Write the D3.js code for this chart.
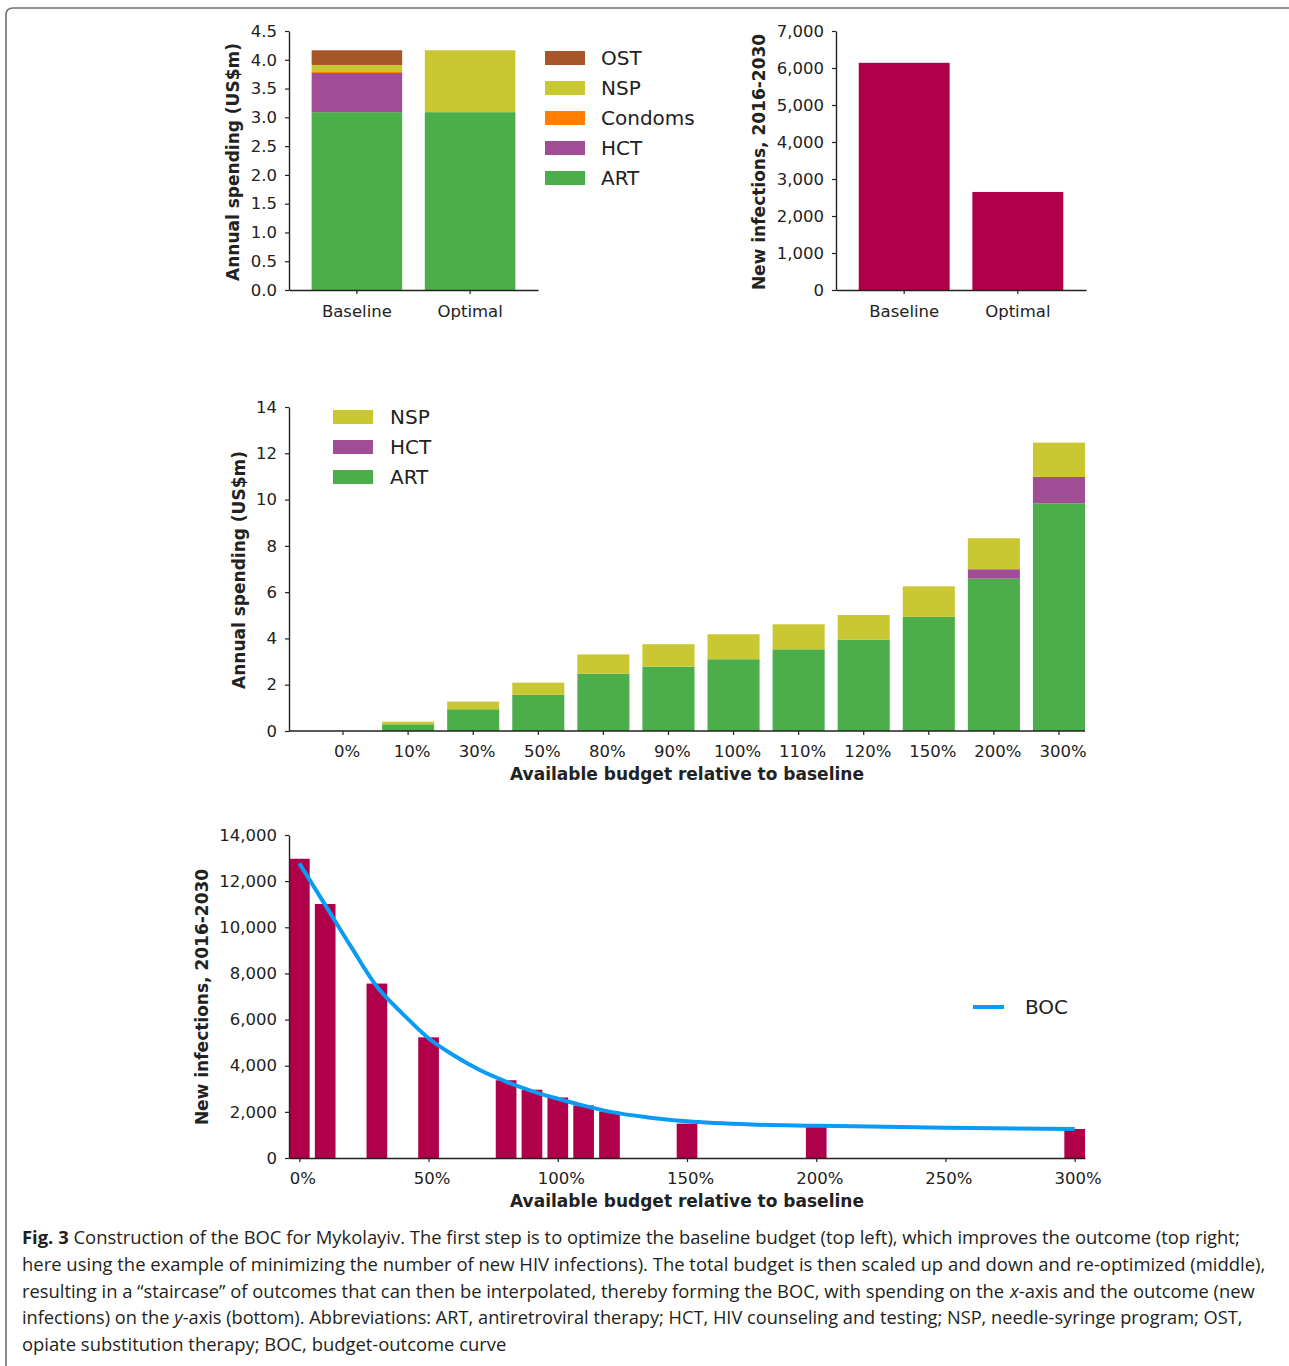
<!DOCTYPE html>
<html>
<head>
<meta charset="utf-8">
<script src="https://cdn.jsdelivr.net/npm/d3@7/dist/d3.min.js"></script>
<style>
  body { margin: 0; background: #fff; }
  svg text { font-family: "DejaVu Sans", sans-serif; fill: #222; }
</style>
</head>
<body>
<div id="fig"></div>
<script>
// top panels: baseline vs optimal
var topCats = ["Baseline", "Optimal"];
var programs = ["ART", "HCT", "Condoms", "NSP", "OST"];
var baselineSpend = [3.09, 0.68, 0.03, 0.11, 0.255];
var optimalSpend = [3.09, 0, 0, 1.075, 0];
var topInfections = [6140, 2650];

// middle panel: spending by budget level
var budgetLevels = ["0%", "10%", "30%", "50%", "80%", "90%", "100%", "110%", "120%", "150%", "200%", "300%"];
var artSpend = [0, 0.29, 0.94, 1.56, 2.48, 2.78, 3.10, 3.53, 3.95, 4.93, 6.58, 9.84];
var hctSpend = [0, 0, 0, 0, 0, 0, 0, 0, 0, 0, 0.41, 1.14];
var nspSpend = [0, 0.11, 0.33, 0.53, 0.83, 0.97, 1.08, 1.08, 1.06, 1.32, 1.34, 1.48];

// bottom panel: outcome staircase and BOC
var budgetPct = [0, 10, 30, 50, 80, 90, 100, 110, 120, 150, 200, 300];
var newInfections = [12970, 11010, 7560, 5230, 3370, 2960, 2625, 2280, 2015, 1490, 1345, 1258];
var bocX = [0, 10, 20, 30, 40, 50, 60, 70, 80, 90, 100, 110, 120, 135, 150, 175, 200, 250, 300];
var bocY = [12770, 10970, 9160, 7430, 6250, 5190, 4430, 3800, 3310, 2900, 2570, 2270, 2010, 1760, 1590, 1450, 1400, 1310, 1260];

var colors = { ART: "#4cae4a", HCT: "#a14d96", Condoms: "#ff7f00", NSP: "#c9c832", OST: "#a65628" };
var red = "#b1004a";
var bocColor = "#0a9bf7";

var W = 1289, H = 1366;
var svg = d3.select("#fig").append("svg").attr("width", W).attr("height", H);
svg.append("rect").attr("width", W).attr("height", H).attr("fill", "#fff");

// frame around the figure
svg.append("path").attr("d", "M6,1366 V15 Q6,8 13,8 H1289")
    .attr("fill", "none").attr("stroke", "#707070").attr("stroke-width", 1.6);

function styleAxis(g) {
    g.selectAll(".domain").attr("stroke", "#222").attr("stroke-width", 1.4);
    g.selectAll(".tick line").attr("stroke", "#222").attr("stroke-width", 1.2);
    g.selectAll(".tick text").attr("font-size", 16.5).attr("font-family", "DejaVu Sans").attr("fill", "#222");
}

function yLabel(x, y, txt) {
    svg.append("text").attr("transform", "translate(" + x + "," + y + ") rotate(-90)")
        .attr("text-anchor", "middle").attr("font-size", 17).attr("font-weight", "bold").text(txt);
}

// ---------- top left: stacked spending ----------
var tlX = d3.scaleBand().domain(topCats).range([289, 538]).paddingInner(0.2).paddingOuter(0.2);
var tlY = d3.scaleLinear().domain([0, 4.5]).range([290, 31]);
var topRows = topCats.map(function (c, i) {
    var row = { cat: c };
    programs.forEach(function (p, j) { row[p] = (i === 0 ? baselineSpend : optimalSpend)[j]; });
    return row;
});
var tlStack = d3.stack().keys(programs)(topRows);
svg.append("g").selectAll("g").data(tlStack).join("g")
    .attr("fill", function (d) { return colors[d.key]; })
    .selectAll("rect").data(function (d) { return d; }).join("rect")
    .attr("x", function (d) { return tlX(d.data.cat); })
    .attr("width", tlX.bandwidth())
    .attr("y", function (d) { return tlY(d[1]); })
    .attr("height", function (d) { return tlY(d[0]) - tlY(d[1]); });

svg.append("g").attr("transform", "translate(289,0)")
    .call(d3.axisLeft(tlY).tickValues(d3.range(0, 4.51, 0.5)).tickFormat(d3.format(".1f")).tickSize(4).tickPadding(8).tickSizeOuter(0))
    .call(styleAxis);
svg.append("g").attr("transform", "translate(0,290)")
    .call(d3.axisBottom(tlX).tickSize(4).tickPadding(11).tickSizeOuter(0))
    .call(styleAxis);
yLabel(239, 162, "Annual spending (US$m)");

var tlLegend = ["OST", "NSP", "Condoms", "HCT", "ART"];
var tlLeg = svg.append("g").selectAll("g").data(tlLegend).join("g")
    .attr("transform", function (d, i) { return "translate(545," + (58 + 30 * i) + ")"; });
tlLeg.append("rect").attr("x", 0).attr("y", -7).attr("width", 40).attr("height", 14)
    .attr("fill", function (d) { return colors[d]; });
tlLeg.append("text").attr("x", 56).attr("dy", "0.36em").attr("font-size", 20).text(function (d) { return d; });

// ---------- top right: infections ----------
var trX = d3.scaleBand().domain(topCats).range([836, 1086]).paddingInner(0.2).paddingOuter(0.2);
var trY = d3.scaleLinear().domain([0, 7000]).range([290, 31]);
svg.append("g").selectAll("rect").data(topInfections).join("rect")
    .attr("x", function (d, i) { return trX(topCats[i]); })
    .attr("width", trX.bandwidth())
    .attr("y", function (d) { return trY(d); })
    .attr("height", function (d) { return trY(0) - trY(d); })
    .attr("fill", red);
svg.append("g").attr("transform", "translate(836,0)")
    .call(d3.axisLeft(trY).tickValues(d3.range(0, 7001, 1000)).tickFormat(d3.format(",")).tickSize(4).tickPadding(8).tickSizeOuter(0))
    .call(styleAxis);
svg.append("g").attr("transform", "translate(0,290)")
    .call(d3.axisBottom(trX).tickSize(4).tickPadding(11).tickSizeOuter(0))
    .call(styleAxis);
yLabel(765, 162, "New infections, 2016-2030");

// ---------- middle: spending by budget ----------
var mX = d3.scaleBand().domain(budgetLevels).range([317, 1085]).paddingInner(0.2).paddingOuter(0);
var mY = d3.scaleLinear().domain([0, 14]).range([731, 407]);
var midKeys = ["ART", "HCT", "NSP"];
var midRows = budgetLevels.map(function (b, i) {
    return { cat: b, ART: artSpend[i], HCT: hctSpend[i], NSP: nspSpend[i] };
});
var mStack = d3.stack().keys(midKeys)(midRows);
svg.append("g").selectAll("g").data(mStack).join("g")
    .attr("fill", function (d) { return colors[d.key]; })
    .selectAll("rect").data(function (d) { return d.filter(function (s) { return s[1] > s[0]; }); }).join("rect")
    .attr("x", function (d) { return mX(d.data.cat); })
    .attr("width", mX.bandwidth())
    .attr("y", function (d) { return mY(d[1]); })
    .attr("height", function (d) { return mY(d[0]) - mY(d[1]); });

svg.append("g").attr("transform", "translate(289,0)")
    .call(d3.axisLeft(mY).tickValues(d3.range(0, 15, 2)).tickSize(4).tickPadding(8).tickSizeOuter(0))
    .call(styleAxis);
var mxAxis = svg.append("g").attr("transform", "translate(0,731)")
    .call(d3.axisBottom(mX).tickSize(4).tickPadding(10).tickSizeOuter(0))
    .call(styleAxis);
mxAxis.selectAll(".tick text").attr("dx", 4);
mxAxis.select(".domain").remove();
svg.append("line").attr("x1", 289).attr("x2", 1085).attr("y1", 731).attr("y2", 731)
    .attr("stroke", "#222").attr("stroke-width", 1.4);
yLabel(245, 570, "Annual spending (US$m)");
svg.append("text").attr("x", 687).attr("y", 780).attr("text-anchor", "middle")
    .attr("font-size", 17).attr("font-weight", "bold").text("Available budget relative to baseline");

var mLegend = ["NSP", "HCT", "ART"];
var mLeg = svg.append("g").selectAll("g").data(mLegend).join("g")
    .attr("transform", function (d, i) { return "translate(333," + (417 + 30 * i) + ")"; });
mLeg.append("rect").attr("x", 0).attr("y", -7).attr("width", 40).attr("height", 14)
    .attr("fill", function (d) { return colors[d]; });
mLeg.append("text").attr("x", 57).attr("dy", "0.36em").attr("font-size", 20).text(function (d) { return d; });

// ---------- bottom: BOC ----------
var bX = d3.scaleLinear().domain([-4, 304]).range([289, 1085]);
var bY = d3.scaleLinear().domain([0, 14000]).range([1158, 835]);
var barW = bX(8) - bX(0);
svg.append("g").selectAll("rect").data(newInfections).join("rect")
    .attr("x", function (d, i) { return bX(budgetPct[i]) - barW / 2; })
    .attr("width", barW)
    .attr("y", function (d) { return bY(d); })
    .attr("height", function (d) { return bY(0) - bY(d); })
    .attr("fill", red);

var bocLine = d3.line()
    .x(function (d, i) { return bX(bocX[i]); })
    .y(function (d) { return bY(d); })
    .curve(d3.curveMonotoneX);
svg.append("path").datum(bocY).attr("d", bocLine)
    .attr("fill", "none").attr("stroke", bocColor).attr("stroke-width", 4);

svg.append("g").attr("transform", "translate(289,0)")
    .call(d3.axisLeft(bY).tickValues(d3.range(0, 14001, 2000)).tickFormat(d3.format(",")).tickSize(4).tickPadding(8).tickSizeOuter(0))
    .call(styleAxis);
var bxAxis = svg.append("g").attr("transform", "translate(0,1158)")
    .call(d3.axisBottom(bX).tickValues(d3.range(0, 301, 50)).tickFormat(function (d) { return d + "%"; }).tickSize(4).tickPadding(10).tickSizeOuter(0))
    .call(styleAxis);
bxAxis.selectAll(".tick text").attr("dx", 3);
yLabel(208, 997, "New infections, 2016-2030");
svg.append("text").attr("x", 687).attr("y", 1207).attr("text-anchor", "middle")
    .attr("font-size", 17).attr("font-weight", "bold").text("Available budget relative to baseline");

svg.append("line").attr("x1", 973).attr("x2", 1004).attr("y1", 1007).attr("y2", 1007)
    .attr("stroke", bocColor).attr("stroke-width", 4);
svg.append("text").attr("x", 1025).attr("y", 1007).attr("dy", "0.36em").attr("font-size", 20).text("BOC");

// ---------- caption ----------
// each run is its own text node, laid end to end, then the line is squeezed to the target width
var captionLines = [
    [["b", "Fig. 3"], ["", "\u00a0Construction of the BOC for Mykolayiv. The first step is to optimize the baseline budget (top left), which improves the outcome (top right;"]],
    [["", "here using the example of minimizing the number of new HIV infections). The total budget is then scaled up and down and re-optimized (middle),"]],
    [["", "resulting in a \u201cstaircase\u201d of outcomes that can then be interpolated, thereby forming the BOC, with spending on the\u00a0"], ["i", "x"], ["", "-axis and the outcome (new"]],
    [["", "infections) on the\u00a0"], ["i", "y"], ["", "-axis (bottom). Abbreviations: ART, antiretroviral therapy; HCT, HIV counseling and testing; NSP, needle-syringe program; OST,"]],
    [["", "opiate substitution therapy; BOC, budget-outcome curve"]]
];
var captionWidths = [1219, 1244, 1233, 1221, 485];
captionLines.forEach(function (parts, i) {
    var line = svg.append("g");
    var cursor = 0;
    parts.forEach(function (p) {
        var t = line.append("text").attr("x", cursor).attr("y", 0)
            .attr("font-size", 18.5)
            .style("font-family", "'Open Sans', sans-serif").style("fill", "#231f20")
            .style("white-space", "pre")
            .text(p[1]);
        if (p[0] === "b") t.attr("font-weight", "bold");
        if (p[0] === "i") t.attr("font-style", "italic");
        cursor += t.node().getComputedTextLength();
    });
    var k = captionWidths[i] / cursor;
    line.attr("transform", "translate(22," + (1244 + 26.8 * i) + ") scale(" + k + ",1)");
});
</script>
</body>
</html>
